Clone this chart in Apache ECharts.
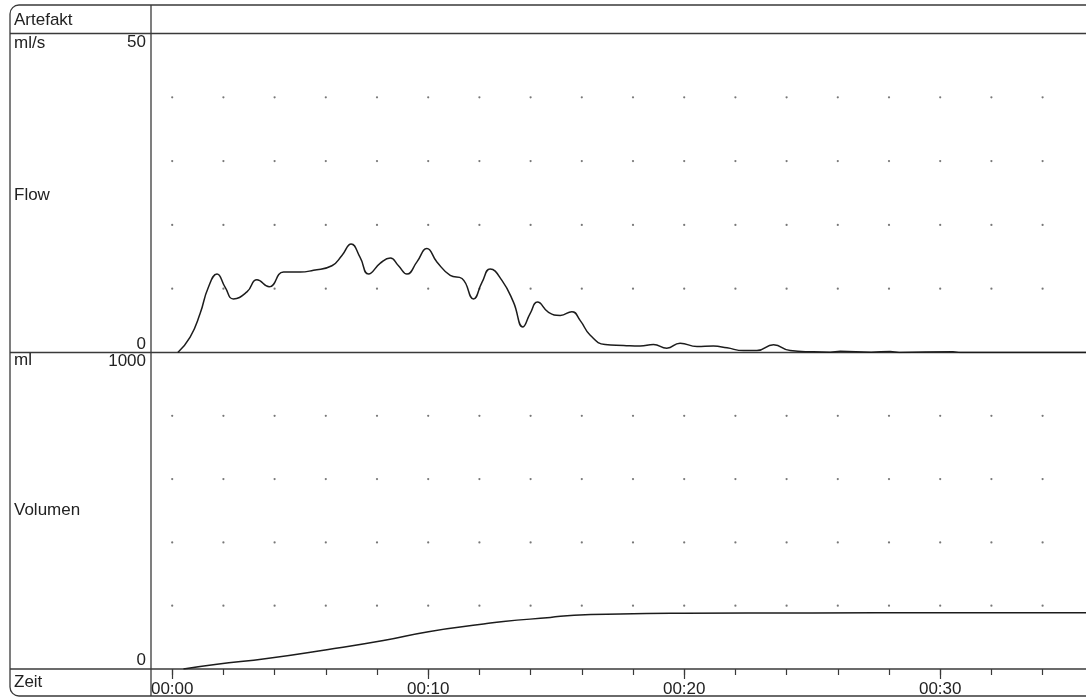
<!DOCTYPE html>
<html>
<head>
<meta charset="utf-8">
<script src="https://cdn.jsdelivr.net/npm/echarts@6/dist/echarts.min.js"></script>
<style>
  html, body { margin: 0; padding: 0; background: #fff; }
  #uroflow { width: 1086px; height: 698px; }
</style>
</head>
<body>
<div id="uroflow"></div>
<script>
// Flow-Kurve (s, ml/s)
const flowTime = [0.22, 0.70, 1.09, 1.41, 1.75, 2.07, 2.39, 2.92, 3.31, 3.79, 4.35, 5.0, 5.52, 6.24, 6.63, 6.99,
  7.34, 7.67, 8.13, 8.52, 8.84, 9.17, 9.56, 9.95, 10.34, 10.86, 11.32, 11.77, 12.10, 12.42, 12.88, 13.33,
  13.70, 13.98, 14.27, 14.70, 15.16, 15.61, 15.94, 16.33, 16.91, 17.63, 18.28, 18.80, 19.32, 19.84, 20.50,
  21.14, 21.67, 22.32, 22.84, 23.49, 24.14, 25.05, 25.70, 26.1, 27.3, 28.05, 28.4, 30.5, 30.8, 35.7]
const flowValue = [0, 2.4, 6.1, 10.2, 12.3, 10.2, 8.4, 9.5, 11.4, 10.3, 12.6, 12.6, 12.9, 13.6, 15.2, 17.0,
  14.9, 12.3, 14.0, 14.8, 13.6, 12.3, 14.2, 16.3, 14.2, 12.1, 11.6, 8.4, 11.0, 13.1, 11.3, 7.9,
  4.0, 6.1, 7.9, 6.3, 5.8, 6.4, 5.0, 2.7, 1.25, 1.1, 1.0, 1.25, 0.67, 1.46, 0.94,
  1.0, 0.73, 0.3, 0.3, 1.2, 0.3, 0.1, 0.05, 0.2, 0.05, 0.15, 0, 0.12, 0, 0]

// Volumen-Kurve (s, ml)
const volTime = [0.44, 1.75, 3.70, 6.04, 8.25, 10.01, 12.16, 12.94, 14.77, 15.7, 17.5, 20, 25, 30, 35.7]
const volValue = [0, 15, 33, 61, 90, 118, 142, 150, 163, 170, 174, 176, 177, 178, 178]

// Achsen / Raster
const timeLabels = [0, 10, 20, 30]
const timeTicks = [0, 2, 4, 6, 8, 10, 12, 14, 16, 18, 20, 22, 24, 26, 28, 30, 32, 34]
const flowTicks = [0, 50]
const volTicks = [0, 1000]
const flowDotLevels = [10, 20, 30, 40]
const volDotLevels = [200, 400, 600, 800]

const W = 1086
const LEFT = 151 // Trennlinie Beschriftung / Diagramm
const T0 = 172.2 // x von 00:00
const PX_PER_S = 25.6
const Y_ART = 33.5
const Y_MID = 352.5
const Y_BOT = 669
const FONT = '"Liberation Sans", Arial, sans-serif'
const FS = 17
const INK = '#222'
const RULE = '#3a3a3a'

const xMin = (LEFT - T0) / PX_PER_S
const xMax = (W - T0) / PX_PER_S

function zip(a, b) {
  return a.map((v, i) => [v, b[i]])
}
function dots(levels) {
  let res = []
  timeTicks.forEach(t => levels.forEach(l => res.push([t, l])))
  return res
}
function fmtTime(v) {
  let s = Math.round(v)
  let mm = String(Math.floor(s / 60)).padStart(2, '0')
  let ss = String(s % 60).padStart(2, '0')
  return mm + ':' + ss
}
function text(x, y, str, align) {
  return {
    type: 'text',
    x: x,
    y: y,
    style: { text: str, fill: INK, font: FS + 'px ' + FONT, textAlign: align || 'left', textVerticalAlign: 'bottom' },
    silent: true,
  }
}
function hline(y, x1, x2) {
  return {
    type: 'line',
    shape: { x1: x1, y1: y, x2: x2, y2: y },
    style: { stroke: RULE, lineWidth: 1.3 },
    silent: true,
  }
}

const chart = echarts.init(document.getElementById('uroflow'))

const yAxisBase = {
  type: 'value',
  splitLine: { show: false },
  axisLine: { show: false },
  axisTick: { show: false },
}
const yLabelBase = {
  formatter: v => String(v),
  color: INK,
  fontFamily: FONT,
  fontSize: FS,
  margin: 5,
  verticalAlignMinLabel: 'bottom',
  verticalAlignMaxLabel: 'top',
}

let option = {
  backgroundColor: '#fff',
  animation: false,
  grid: [
    { left: LEFT, right: 0, top: Y_ART, height: Y_MID - Y_ART },
    { left: LEFT, right: 0, top: Y_MID, height: Y_BOT - Y_MID },
  ],
  xAxis: [
    {
      gridIndex: 0,
      type: 'value',
      min: xMin,
      max: xMax,
      axisLine: { show: false },
      axisTick: { show: false },
      axisLabel: { show: false },
      splitLine: { show: false },
    },
    {
      // Hauptstriche + Zeitbeschriftung
      gridIndex: 1,
      type: 'value',
      position: 'bottom',
      min: xMin,
      max: xMax,
      axisLine: { show: false },
      axisTick: { show: true, length: 10, customValues: timeLabels, lineStyle: { color: RULE, width: 1.2 } },
      axisLabel: {
        customValues: timeLabels,
        formatter: fmtTime,
        color: INK,
        fontFamily: FONT,
        fontSize: FS,
        margin: 12,
      },
      splitLine: { show: false },
    },
    {
      // Nebenstriche alle 2 s
      gridIndex: 1,
      type: 'value',
      position: 'bottom',
      offset: 0,
      min: xMin,
      max: xMax,
      axisLine: { show: false },
      axisTick: { show: true, length: 6, customValues: timeTicks, lineStyle: { color: RULE, width: 1.2 } },
      axisLabel: { show: false },
      splitLine: { show: false },
    },
  ],
  yAxis: [
    {
      ...yAxisBase,
      gridIndex: 0,
      min: 0,
      max: 50,
      axisLabel: { ...yLabelBase, customValues: flowTicks },
    },
    {
      ...yAxisBase,
      gridIndex: 1,
      min: 0,
      max: 1000,
      axisLabel: { ...yLabelBase, customValues: volTicks },
    },
  ],
  series: [
    {
      type: 'scatter',
      xAxisIndex: 0,
      yAxisIndex: 0,
      data: dots(flowDotLevels),
      symbolSize: 2.2,
      itemStyle: { color: '#555' },
      silent: true,
    },
    {
      type: 'scatter',
      xAxisIndex: 1,
      yAxisIndex: 1,
      data: dots(volDotLevels),
      symbolSize: 2.2,
      itemStyle: { color: '#555' },
      silent: true,
    },
    {
      name: 'Flow',
      type: 'line',
      xAxisIndex: 0,
      yAxisIndex: 0,
      data: zip(flowTime, flowValue),
      smooth: 0.5,
      showSymbol: false,
      lineStyle: { color: '#1c1c1c', width: 1.5 },
    },
    {
      name: 'Volumen',
      type: 'line',
      xAxisIndex: 1,
      yAxisIndex: 1,
      data: zip(volTime, volValue),
      smooth: 0.5,
      showSymbol: false,
      lineStyle: { color: '#1c1c1c', width: 1.5 },
    },
  ],
  graphic: [
    // Rahmen
    {
      type: 'rect',
      shape: { x: 10, y: 5, width: W + 20, height: 691, r: 9 },
      style: { fill: 'none', stroke: RULE, lineWidth: 1.3 },
      silent: true,
    },
    {
      type: 'line',
      shape: { x1: LEFT, y1: 5, x2: LEFT, y2: 696 },
      style: { stroke: RULE, lineWidth: 1.3 },
      silent: true,
    },
    hline(Y_ART, 10, W),
    hline(Y_MID, 10, W),
    hline(Y_BOT, 10, W),
    // Beschriftungen links
    text(14, 29, 'Artefakt'),
    text(14, 52, 'ml/s'),
    text(14, 204, 'Flow'),
    text(14, 369, 'ml'),
    text(14, 519, 'Volumen'),
    text(14, 691, 'Zeit'),
  ],
}

chart.setOption(option)
window.addEventListener('resize', () => chart.resize())
</script>
</body>
</html>
